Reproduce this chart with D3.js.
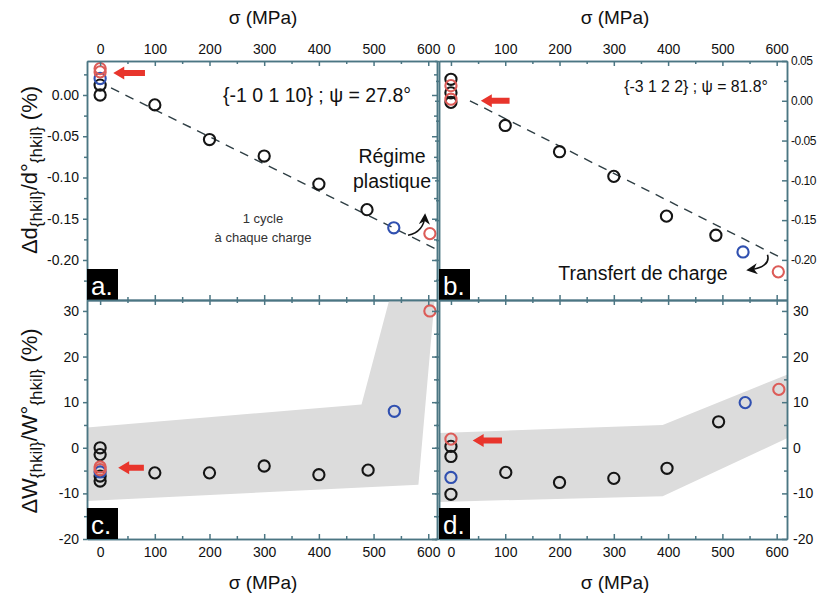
<!DOCTYPE html>
<html><head><meta charset="utf-8">
<script src="https://cdn.jsdelivr.net/npm/d3@7/dist/d3.min.js"></script>
<style>
body{margin:0;background:#fff}
svg{display:block}
text{font-family:"Liberation Sans",Arial,sans-serif}
</style>
</head><body>
<svg id="chart" width="817" height="596"></svg>
<script>
// ---------- data ----------
const xMajor = [0,100,200,300,400,500,600];
const xMinor = [50,150,250,350,450,550];
const dTicks = [0.05,0.00,-0.05,-0.10,-0.15,-0.20];
const dMinor = [0.025,-0.025,-0.075,-0.125,-0.175,-0.225];
const wTicks = [30,20,10,0,-10,-20];
const wMinor = [25,15,5,-5,-15];

// panel a  {-1 0 1 10}
const aBlackX = [0,0,100,200,300,400,488];
const aBlackY = [0.000,0.012,-0.012,-0.054,-0.074,-0.108,-0.139];
const aBlueX = [0,537];
const aBlueY = [0.020,-0.161];
const aRedX = [0,0,603];
const aRedY = [0.028,0.032,-0.168];
const aFitX = [20,612];
const aFitY = [0.0085,-0.186];

// panel b  {-3 1 2 2}
const bBlackX = [0,0,0,100,200,300,397,488];
const bBlackY = [0.027,0.010,-0.002,-0.031,-0.064,-0.095,-0.145,-0.169];
const bBlueX = [538];
const bBlueY = [-0.190];
const bRedX = [0,0,603];
const bRedY = [0.019,0.002,-0.215];
const bFitX = [35,610];
const bFitY = [0.000,-0.198];

// panel c
const cBlackX = [0,0,0,0,100,200,300,400,490];
const cBlackY = [0.0,-1.5,-6.2,-7.3,-5.5,-5.5,-4.0,-5.9,-4.9];
const cBlueX = [0,538];
const cBlueY = [-5.3,8.0];
const cRedX = [0,0,603];
const cRedY = [-4.2,-4.8,30.0];
const cBandX = [-30,478,530,612,582,-30];
const cBandY = [4.4,9.5,33,33,-8.1,-11.7];

// panel d
const dBlackX = [0,0,0,101,200,300,398,493];
const dBlackY = [0.3,-1.9,-10.2,-5.4,-7.6,-6.7,-4.5,5.7];
const dBlueX = [0,542];
const dBlueY = [-6.5,9.9];
const dRedX = [0,604];
const dRedY = [1.9,12.8];
const dBandX = [-30,390,625,625,390,-30];
const dBandY = [3.2,5.0,16.3,2.4,-10.6,-11.9];

// ---------- layout ----------
const svg = d3.select("#chart");
const AX = "#4b7683";
const COL = {black:"#151515", blue:"#3050b0", red:"#dc5c58"};

const panels = [
  {id:"a", x:[87,437], y:[61,300], xd:[-24,616], yd:[-0.2485,0.0412], top:true, left:true,
   black:[aBlackX,aBlackY], blue:[aBlueX,aBlueY], red:[aRedX,aRedY], fit:[aFitX,aFitY],
   arrow:{tip:[24,0.0267], tail:[82,0.0267]},
   curve:{from:[563,-0.170], ctrl:[592,-0.166], to:[594,-0.146]}},
  {id:"b", x:[439,787], y:[61,300], xd:[-22,619], yd:[-0.2504,0.0500], top:true, left:false, narrow:true,
   black:[bBlackX,bBlackY], blue:[bBlueX,bBlueY], red:[bRedX,bRedY], fit:[bFitX,bFitY],
   arrow:{tip:[55,0.0], tail:[108,0.0]},
   curve:{from:[583,-0.1936], ctrl:[590,-0.209], to:[548,-0.2126]}},
  {id:"c", x:[87,437], y:[300,539], xd:[-24,616], yd:[-20,32.4], top:false, left:true,
   black:[cBlackX,cBlackY], blue:[cBlueX,cBlueY], red:[cRedX,cRedY], band:[cBandX,cBandY],
   arrow:{tip:[33,-4.4], tail:[80,-4.4]}},
  {id:"d", x:[439,787], y:[300,539], xd:[-22,619], yd:[-20,32.4], top:false, left:false,
   black:[dBlackX,dBlackY], blue:[dBlueX,dBlueY], red:[dRedX,dRedY], band:[dBandX,dBandY],
   arrow:{tip:[40,1.6], tail:[94,1.6]}}
];

const defs = svg.append("defs");
defs.append("marker").attr("id","ah").attr("viewBox","0 0 10 10").attr("refX",8).attr("refY",5)
  .attr("markerWidth",7).attr("markerHeight",7).attr("orient","auto")
  .append("path").attr("d","M0,0 L10,5 L0,10 L3,5 Z").attr("fill","#111");

panels.forEach(p => {
  const x = d3.scaleLinear().domain(p.xd).range(p.x);
  const y = d3.scaleLinear().domain(p.yd).range([p.y[1],p.y[0]]);
  const g = svg.append("g");
  defs.append("clipPath").attr("id","clip"+p.id).append("rect")
    .attr("x",p.x[0]).attr("y",p.y[0]).attr("width",p.x[1]-p.x[0]).attr("height",p.y[1]-p.y[0]);
  const pg = g.append("g").attr("clip-path",`url(#clip${p.id})`);

  if (p.band) {
    const pts = p.band[0].map((v,i)=>[x(v), y(p.band[1][i])]);
    pg.append("path").attr("d", d3.line()(pts)+"Z").attr("fill","#dcdcdc");
  }
  if (p.fit) {
    const pts = p.fit[0].map((v,i)=>[x(v), y(p.fit[1][i])]);
    pg.append("path").attr("d", d3.line()(pts)).attr("stroke","#2e3e44").attr("stroke-width",1.4)
      .attr("stroke-dasharray","9,7").attr("fill","none");
  }
  [["black",COL.black],["blue",COL.blue],["red",COL.red]].forEach(([k,c])=>{
    const [xs,ys] = p[k];
    pg.selectAll(null).data(xs.map((v,i)=>[v,ys[i]])).enter().append("circle")
      .attr("cx",d=>x(d[0])).attr("cy",d=>y(d[1])).attr("r",5.6)
      .attr("fill","none").attr("stroke",c).attr("stroke-width",2.1);
  });
  // red arrow
  {
    const tx=x(p.arrow.tip[0]), ty=y(p.arrow.tip[1]), ex=x(p.arrow.tail[0]);
    const hl=11, hh=6.5, sh=3;
    const pts=[[tx,ty],[tx+hl,ty-hh],[tx+hl,ty-sh],[ex,ty-sh],[ex,ty+sh],[tx+hl,ty+sh],[tx+hl,ty+hh]];
    g.append("path").attr("d",d3.line()(pts)+"Z").attr("fill","#e8352c");
  }
  if (p.curve) {
    const c=p.curve;
    g.append("path").attr("d",`M${x(c.from[0])},${y(c.from[1])} Q${x(c.ctrl[0])},${y(c.ctrl[1])} ${x(c.to[0])},${y(c.to[1])}`)
      .attr("fill","none").attr("stroke","#111").attr("stroke-width",1.6).attr("marker-end","url(#ah)");
  }

  // axes
  const yt = p.id<"c" ? dTicks : wTicks;
  const ym = p.id<"c" ? dMinor : wMinor;
  const yf = p.id<"c" ? (d=>d.toFixed(2).replace("-0.00","0.00")) : (d=>String(d));
  const yIn = (v)=> v>=p.yd[0]-1e-9 && v<=p.yd[1]+1e-9;
  const ax = g.append("g").attr("class","axes");
  const styleAxis = sel => { sel.selectAll("path,line").attr("stroke",AX).attr("stroke-width",1.5);
    sel.selectAll("text").attr("fill","#111").attr("font-size",14).attr("font-family","Liberation Sans, Arial, sans-serif"); };

  // top
  ax.append("g").attr("transform",`translate(0,${p.y[0]})`)
    .call(d3.axisTop(x).tickValues(xMajor).tickSizeInner(-5).tickSizeOuter(0).tickPadding(7)
      .tickFormat(p.top? d3.format("d") : ()=>"")).call(styleAxis);
  ax.append("g").attr("transform",`translate(0,${p.y[0]})`)
    .call(d3.axisTop(x).tickValues(xMinor).tickSizeInner(-3).tickSizeOuter(0).tickFormat(()=>"")).call(styleAxis);
  // bottom
  ax.append("g").attr("transform",`translate(0,${p.y[1]})`)
    .call(d3.axisBottom(x).tickValues(xMajor).tickSizeInner(-5).tickSizeOuter(0).tickPadding(8)
      .tickFormat(!p.top? d3.format("d") : ()=>"")).call(styleAxis);
  ax.append("g").attr("transform",`translate(0,${p.y[1]})`)
    .call(d3.axisBottom(x).tickValues(xMinor).tickSizeInner(-3).tickSizeOuter(0).tickFormat(()=>"")).call(styleAxis);
  // left
  ax.append("g").attr("transform",`translate(${p.x[0]},0)`)
    .call(d3.axisLeft(y).tickValues(yt.filter(yIn)).tickSizeInner(4).tickSizeOuter(0).tickPadding(4)
      .tickFormat(p.left? yf : ()=>"")).call(styleAxis);
  ax.append("g").attr("transform",`translate(${p.x[0]},0)`)
    .call(d3.axisLeft(y).tickValues(ym.filter(yIn)).tickSizeInner(3).tickSizeOuter(0).tickFormat(()=>"")).call(styleAxis);
  // right
  const rAx = ax.append("g").attr("transform",`translate(${p.x[1]},0)`)
    .call(d3.axisRight(y).tickValues(yt.filter(yIn)).tickSizeInner(-5).tickSizeOuter(0).tickPadding(p.narrow?4:6)
      .tickFormat(!p.left? yf : ()=>"")).call(styleAxis);
  if (p.narrow) rAx.selectAll("text").attr("font-size",12).attr("letter-spacing",-0.5);
  ax.append("g").attr("transform",`translate(${p.x[1]},0)`)
    .call(d3.axisRight(y).tickValues(ym.filter(yIn)).tickSizeInner(-3).tickSizeOuter(0).tickFormat(()=>"")).call(styleAxis);

  // panel label box
  g.append("rect").attr("x",p.x[0]).attr("y",p.y[1]-31).attr("width",31).attr("height",31).attr("fill","#000");
  g.append("text").attr("x",p.x[0]+4).attr("y",p.y[1]-5).attr("fill","#fff").attr("font-size",26).text(p.id+".");
});

// annotations
svg.append("text").attr("x",317).attr("y",102).attr("text-anchor","middle").attr("font-size",19.5).attr("fill","#111")
  .text("{-1 0 1 10} ; \u03c8 = 27.8\u00b0");
svg.append("text").attr("x",392).attr("y",163).attr("text-anchor","middle").attr("font-size",19.5).attr("fill","#111").text("Régime");
svg.append("text").attr("x",392).attr("y",188).attr("text-anchor","middle").attr("font-size",19.5).attr("fill","#111").text("plastique");
svg.append("text").attr("x",263).attr("y",223).attr("text-anchor","middle").attr("font-size",13).attr("fill","#333").text("1 cycle");
svg.append("text").attr("x",263).attr("y",242).attr("text-anchor","middle").attr("font-size",13).attr("fill","#333").text("à chaque charge");
svg.append("text").attr("x",696).attr("y",92).attr("text-anchor","middle").attr("font-size",15.8).attr("fill","#111")
  .text("{-3 1 2 2} ; \u03c8 = 81.8\u00b0");
svg.append("text").attr("x",643).attr("y",280).attr("text-anchor","middle").attr("font-size",19.5).attr("fill","#111").text("Transfert de charge");

// axis titles
[[263,24],[615,24],[263,589],[615,589]].forEach(([cx,cy])=>{
  svg.append("text").attr("x",cx).attr("y",cy).attr("text-anchor","middle").attr("font-size",19).attr("fill","#111").text("\u03c3 (MPa)");
});
function yTitle(cy, main){
  const t = svg.append("text").attr("transform",`translate(37,${cy}) rotate(-90)`).attr("text-anchor","middle")
    .attr("font-size",22).attr("fill","#111");
  t.append("tspan").text("\u0394"+main);
  t.append("tspan").attr("font-size",17).attr("dy",5).text("{hkil}");
  t.append("tspan").attr("dy",-5).text("/"+main+"\u00b0");
  t.append("tspan").attr("font-size",17).attr("dy",5).text("{hkil}");
  t.append("tspan").attr("dy",-5).text(" (%)");
}
yTitle(170,"d");
yTitle(421,"W");
</script>
</body></html>
